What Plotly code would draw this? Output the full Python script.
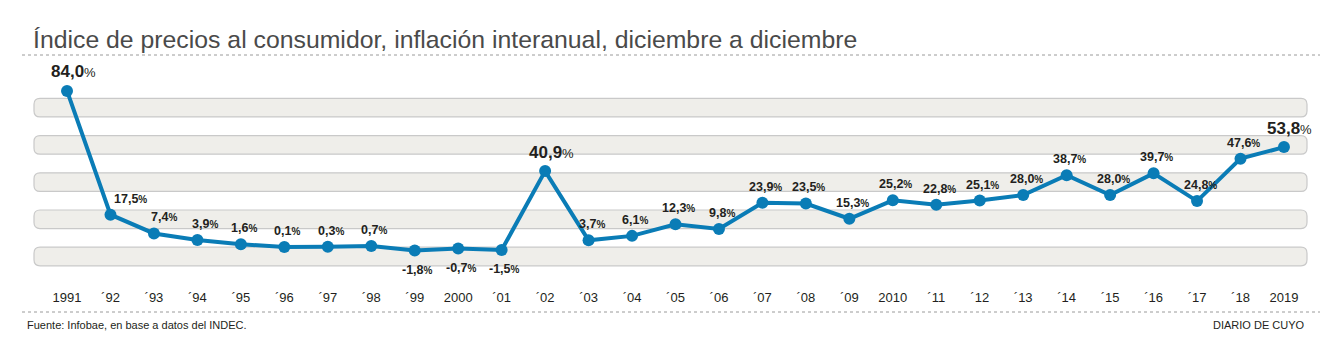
import plotly.graph_objects as go

years = list(range(1991, 2020))
tick_labels = ["1991", "´92", "´93", "´94", "´95", "´96", "´97", "´98", "´99", "2000",
               "´01", "´02", "´03", "´04", "´05", "´06", "´07", "´08", "´09", "2010",
               "´11", "´12", "´13", "´14", "´15", "´16", "´17", "´18", "2019"]
inflation = [84.0, 17.5, 7.4, 3.9, 1.6, 0.1, 0.3, 0.7, -1.8, -0.7,
             -1.5, 40.9, 3.7, 6.1, 12.3, 9.8, 23.9, 23.5, 15.3, 25.2,
             22.8, 25.1, 28.0, 38.7, 28.0, 39.7, 24.8, 47.6, 53.8]
band_ranges = [(-10, 0), (10, 20), (30, 40), (50, 60), (70, 80)]
highlight_years = [1991, 2002, 2019]

W, H = 1337, 342
ML, MR, MT, MB = 34, 30, 60, 57
plot_w = W - ML - MR
plot_h = H - MT - MB

BLUE = "#0a7cb6"
LABEL_FONT = "Liberation Sans, Arial, Helvetica, sans-serif"
TEXT_FONT = "Liberation Sans, Arial, Helvetica, sans-serif"

fig = go.Figure()

fig.add_trace(go.Scatter(
    x=years, y=inflation, mode="lines+markers",
    line=dict(color=BLUE, width=4),
    marker=dict(color=BLUE, size=12),
    hoverinfo="skip", showlegend=False,
))

# rounded bands
rx = 6 / plot_w
ry = 6 / (plot_h / 120.9)
shapes = []
for lo, hi in band_ranges:
    x0, x1 = 0, 1
    path = (f"M {x0+rx},{lo} L {x1-rx},{lo} Q {x1},{lo} {x1},{lo+ry} "
            f"L {x1},{hi-ry} Q {x1},{hi} {x1-rx},{hi} L {x0+rx},{hi} "
            f"Q {x0},{hi} {x0},{hi-ry} L {x0},{lo+ry} Q {x0},{lo} {x0+rx},{lo} Z")
    shapes.append(dict(type="path", path=path, xref="paper", yref="y",
                       fillcolor="#efeeea", line=dict(color="#c9c9c9", width=1.2),
                       layer="below"))

def px_to_paper_x(px):
    return (px - ML) / plot_w

def px_to_paper_y(py):
    return (H - MB - py) / plot_h

for py in (55, 312):
    shapes.append(dict(type="line", xref="paper", yref="paper",
                       x0=px_to_paper_x(22), x1=px_to_paper_x(1320),
                       y0=px_to_paper_y(py), y1=px_to_paper_y(py),
                       line=dict(color="#9a9a9a", width=1, dash="dot")))

annotations = []
special_xshift = {1992: 20, 1993: 10, 1994: 8}
for yr, v in zip(years, inflation):
    txt = f"{v:.1f}".replace(".", ",")
    big = yr in highlight_years
    if big:
        text = f"<b>{txt}</b><span style='font-size:13px'>%</span>"
        size = 17
        ys = 19
        xs = 6
    else:
        text = f"<b>{txt}<span style='font-size:10px'>%</span></b>"
        size = 12.5
        ys = 16 if v >= 0 else -19
        xs = special_xshift.get(yr, 3)
    annotations.append(dict(
        x=yr, y=v, xref="x", yref="y", text=text, showarrow=False,
        xshift=xs, yshift=ys, xanchor="center", yanchor="middle",
        font=dict(family=LABEL_FONT, size=size, color="#231f20"),
    ))

annotations.append(dict(
    text="Fuente: Infobae, en base a datos del INDEC.", xref="paper", yref="paper",
    x=px_to_paper_x(25), y=px_to_paper_y(325), xanchor="left", yanchor="middle",
    showarrow=False, font=dict(family=TEXT_FONT, size=11, color="#231f20"),
))
annotations.append(dict(
    text="DIARIO DE CUYO", xref="paper", yref="paper",
    x=px_to_paper_x(1307), y=px_to_paper_y(325), xanchor="right", yanchor="middle",
    showarrow=False, font=dict(family=TEXT_FONT, size=11, color="#231f20"),
))

fig.update_layout(
    width=W, height=H,
    margin=dict(l=ML, r=MR, t=MT, b=MB),
    paper_bgcolor="white", plot_bgcolor="white",
    title=dict(
        text="Índice de precios al consumidor, inflación interanual, diciembre a diciembre",
        x=33 / W, xanchor="left", xref="container",
        y=1 - 39 / H, yanchor="middle", yref="container",
        font=dict(family=TEXT_FONT, size=24.8, color="#4a4a4a"),
    ),
    xaxis=dict(
        range=[1990.24, 2019.53], tickmode="array", tickvals=years, ticktext=tick_labels,
        showgrid=False, zeroline=False, showline=False, ticks="",
        ticklabelstandoff=3,
        tickfont=dict(family=TEXT_FONT, size=13, color="#231f20"),
        fixedrange=True,
    ),
    yaxis=dict(
        range=[-20.3, 100.6], showgrid=False, zeroline=False, showline=False,
        showticklabels=False, ticks="", fixedrange=True,
    ),
    shapes=shapes,
    annotations=annotations,
)

fig.write_html("out.html")
